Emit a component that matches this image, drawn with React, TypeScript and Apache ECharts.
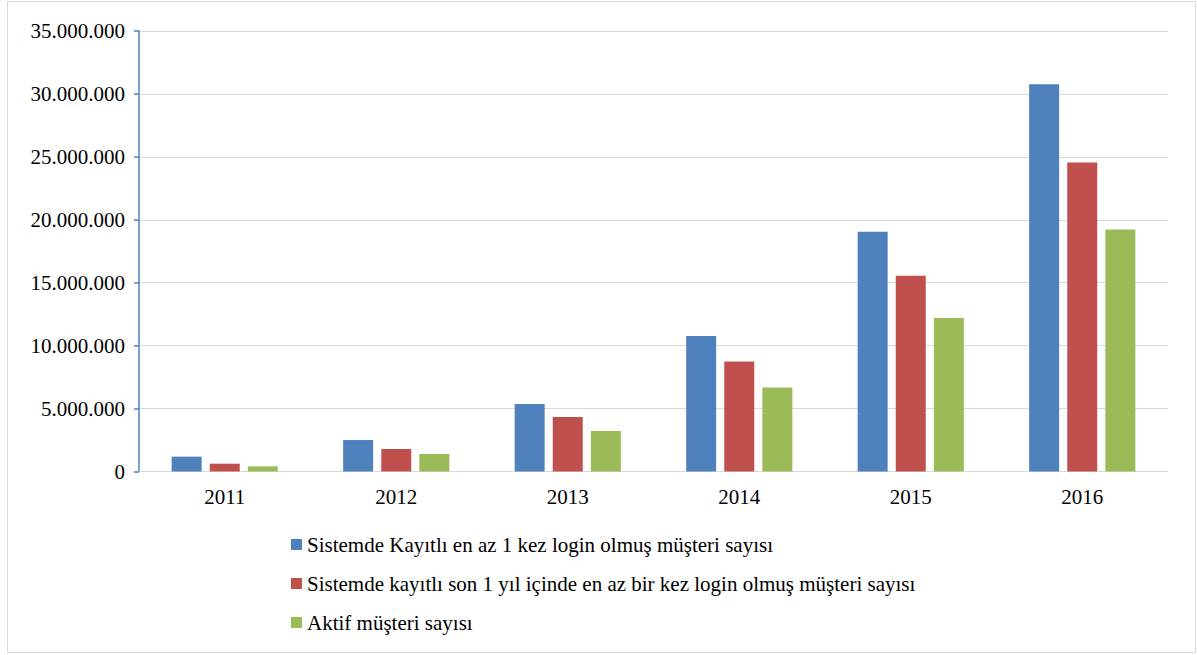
import React, { useEffect, useRef } from "react";
import * as echarts from "echarts";

const years = ["2011", "2012", "2013", "2014", "2015", "2016"];
const seriesNames = [
  "Sistemde Kayıtlı en az 1 kez login olmuş müşteri sayısı",
  "Sistemde kayıtlı son 1 yıl içinde en az bir kez login olmuş müşteri sayısı",
  "Aktif müşteri sayısı",
];
const registeredLogin = [1180000, 2500000, 5370000, 10770000, 19050000, 30760000];
const lastYearLogin = [620000, 1790000, 4340000, 8750000, 15550000, 24560000];
const activeCustomers = [410000, 1390000, 3220000, 6680000, 12200000, 19230000];
const colors = ["#4F81BD", "#C0504D", "#9BBB59"];

const fmt = (v: number) =>
  String(Math.round(v)).replace(/\B(?=(\d{3})+(?!\d))/g, ".");

export default function App() {
  const ref = useRef<HTMLDivElement>(null);
  useEffect(() => {
    if (!ref.current) return;
    const chart = echarts.init(ref.current, null, { renderer: "svg" });
    const font = "'Liberation Serif', 'Times New Roman', serif";
    const data = [registeredLogin, lastYearLogin, activeCustomers];
    chart.setOption({
      animation: false,
      backgroundColor: "#ffffff",
      textStyle: { fontFamily: font },
      graphic: [
        {
          type: "rect",
          shape: { x: 7.5, y: 1.5, width: 1188, height: 651 },
          style: { fill: "none", stroke: "#D9D9D9", lineWidth: 1 },
          silent: true,
        },
      ],
      grid: { left: 139, right: 29, top: 31, bottom: 183.5, containLabel: false },
      legend: {
        orient: "vertical",
        left: 286,
        top: 529,
        itemWidth: 11,
        itemHeight: 11,
        itemGap: 18,
        icon: "rect",
        data: seriesNames,
        textStyle: { fontFamily: font, fontSize: 21, color: "#000" },
      },
      xAxis: {
        type: "category",
        data: years,
        axisLine: { lineStyle: { color: "#D9D9D9", width: 1 } },
        axisTick: { show: false },
        axisLabel: { fontFamily: font, fontSize: 21, color: "#000", margin: 15 },
      },
      yAxis: {
        type: "value",
        min: 0,
        max: 35000000,
        interval: 5000000,
        axisLine: { show: true, lineStyle: { color: "#4F81BD", width: 1.5 } },
        axisTick: { show: true, length: 5, lineStyle: { color: "#4F81BD", width: 1.5 } },
        splitLine: { lineStyle: { color: "#D9D9D9", width: 1 } },
        axisLabel: {
          fontFamily: font,
          fontSize: 21,
          color: "#000",
          margin: 14,
          formatter: (v: number) => fmt(v),
        },
      },
      series: seriesNames.map((name, i) => ({
        name,
        type: "bar",
        data: data[i],
        barWidth: 30,
        barGap: "27%",
        itemStyle: { color: colors[i] },
      })),
    });
    return () => chart.dispose();
  }, []);
  return (
    <div
      ref={ref}
      style={{ position: "absolute", left: 0, top: 0, width: 1197, height: 655 }}
    />
  );
}
